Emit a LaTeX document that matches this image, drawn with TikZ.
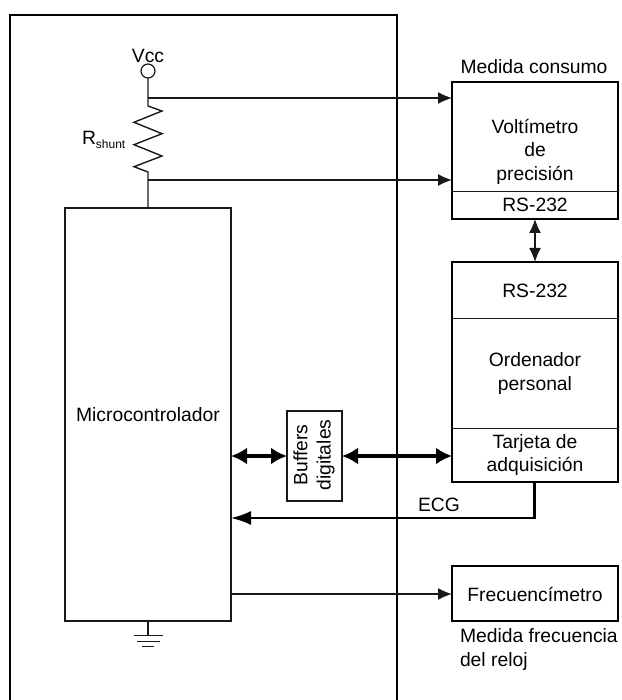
\documentclass[tikz,border=0pt]{standalone}
\usepackage{fontspec}
\setmainfont{Liberation Sans}
\usetikzlibrary{arrows.meta,calc}
\tikzset{
  x=1pt,y=-1pt,
  every node/.style={inner sep=0pt,outer sep=0pt,text=black},
  txt/.style={font=\fontsize{19.3}{23.4}\selectfont,align=center},
  ltxt/.style={font=\fontsize{19.3}{23.4}\selectfont,align=left,anchor=west},
  wall/.style={line width=2pt,draw=black},
  unit/.style={draw=black,line width=1.9pt,rectangle},
  thinbox/.style={draw=black!90,line width=1.4pt,rectangle},
  divider/.style={draw=black!90,line width=1.1pt},
  wire/.style={draw=black!90,line width=1.4pt},
  sig/.style={wire,-{Latex[length=14pt,width=12pt]}},
  sigboth/.style={wire,{Latex[length=14pt,width=12pt]}-{Latex[length=14pt,width=12pt]}},
  bus/.style={draw=black,line width=3.2pt,{Latex[length=16pt,width=17pt]}-{Latex[length=16pt,width=17pt]}},
  busone/.style={draw=black,line width=2.2pt,-{Latex[length=20pt,width=14pt]}}
}
\begin{document}
\begin{tikzpicture}
\useasboundingbox (0,0) rectangle (621,700);
% enclosure, open at the bottom edge
\draw[wall,line join=miter] (10,701) -- (10,15) -- (397,15) -- (397,701);
% microcontroller
\node[thinbox,minimum width=166pt,minimum height=413pt] (mcu) at (148,414.5) {};
\node[txt] (mcutxt) at (148,415) {Microcontrolador};
% Vcc and shunt
\node[circle,draw=black!90,line width=1.2pt,minimum size=14pt] (vccc) at (148,71) {};
\node[txt] (vcc) at (148,56) {Vcc};
\coordinate (t1) at (148,98);
\coordinate (rtop) at (148,106);
\coordinate (rbot) at (148,172);
\coordinate (t2) at (148,180);
\draw[wire] (vccc.south) -- (t1) -- (rtop)
  -- (162,111) -- (134,122.3) -- (162,133.7) -- (134,144.7) -- (162,156) -- (134,166.7) -- (rbot)
  -- (t2) -- (mcu.north -| t2);
\node[font=\fontsize{19.3}{22}\selectfont,anchor=west] (rs) at (82,139.5) {R\raisebox{-4pt}{\fontsize{12}{13}\selectfont shunt}};
% ground
\coordinate (g0) at (148,635);
\coordinate (g1l) at (134,635.5); \coordinate (g1r) at (163,635.5);
\coordinate (g2l) at (137,641.5); \coordinate (g2r) at (160,641.5);
\coordinate (g3l) at (142,646.5); \coordinate (g3r) at (154,646.5);
\draw[wire] (mcu.south -| g0) -- (g0);
\draw[wire] (g1l) -- (g1r);
\draw[wire] (g2l) -- (g2r);
\draw[wire] (g3l) -- (g3r);
% voltmeter
\node[unit,minimum width=166pt,minimum height=137pt] (volt) at (535,150.5) {};
\node[txt] (volttxt) at (535,151.5) {Voltímetro\\de\\precisión};
\node[txt] (rsa) at (535,205) {RS-232};
\node[txt] (consumo) at (534,67) {Medida consumo};
\coordinate (voltdiv) at (535,191.5);
\draw[divider] (volt.west |- voltdiv) -- (volt.east |- voltdiv);
% computer
\node[unit,minimum width=166pt,minimum height=220pt] (pc) at (535,372) {};
\node[txt] (rsb) at (535,291) {RS-232};
\node[txt] (pctxt) at (535,373.5) {Ordenador\\personal};
\node[txt] (daq) at (535,455) {Tarjeta de\\adquisición};
\coordinate (pcd1) at (535,318.5);
\coordinate (pcd2) at (535,428.5);
\draw[divider] (pc.west |- pcd1) -- (pc.east |- pcd1);
\draw[divider] (pc.west |- pcd2) -- (pc.east |- pcd2);
% buffers
\node[thinbox,minimum width=55pt,minimum height=90pt] (buf) at (314.5,456) {};
\node[txt,rotate=90] (buftxt) at (314,455) {Buffers\\digitales};
% frequency counter
\node[unit,minimum width=166pt,minimum height=55pt] (freq) at (535,593.5) {};
\node[txt] (freqtxt) at (535,594) {Frecuencímetro};
\node[ltxt] (medfreq) at (460,649.5) {Medida frecuencia\\del reloj};
% connectors
\coordinate (fl) at (300,594);
\draw[sig] (t1) -- (t1 -| volt.west);
\draw[sig] (t2) -- (t2 -| volt.west);
\draw[sigboth] (volt.south) -- (pc.north);
\draw[bus] (mcu.east |- buf.west) -- (buf.west);
\draw[bus] (buf.east) -- (pc.west |- buf.east);
\coordinate (ecgc) at (534.5,518);
\draw[busone] (pc.south -| ecgc) -- (ecgc) -- (ecgc -| mcu.east);
\node[txt] (ecg) at (439,505) {ECG};
\draw[sig] (mcu.east |- fl) -- (freq.west |- fl);
\end{tikzpicture}
\end{document}
